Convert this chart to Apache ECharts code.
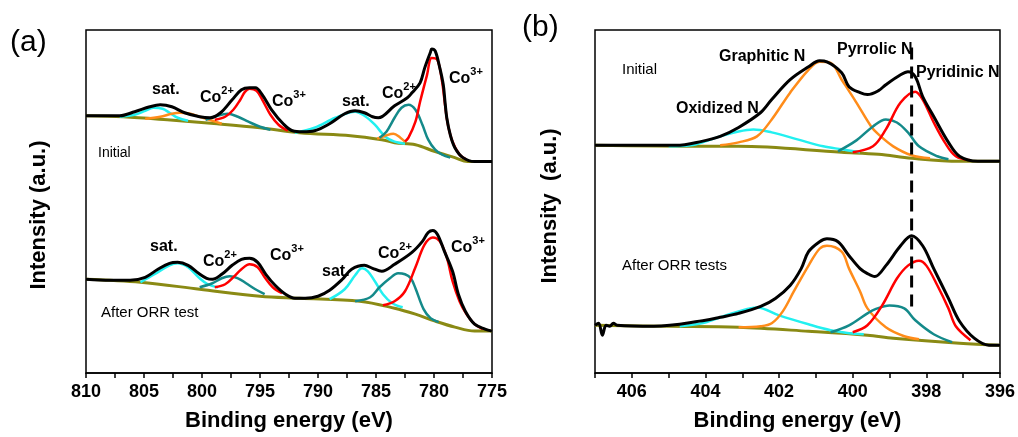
<!DOCTYPE html>
<html>
<head>
<meta charset="utf-8">
<title>XPS Co 2p / N 1s</title>
<script src="https://cdn.jsdelivr.net/npm/echarts@6/dist/echarts.min.js"></script>
<style>
  html, body { margin: 0; padding: 0; background: #fff; }
  #main { width: 1018px; height: 437px; }
</style>
</head>
<body>
<div id="main"></div>
<script>
// ---- (a) Co 2p : [binding energy (eV), intensity (a.u.)] ----
// Initial
const aIniEnvelope = [[810,258],[808.8,258],[807.1,258],[805.8,262],[804.5,267],[803.6,269],[802.6,267],[801.5,261],[800.2,257],[799.3,256],[798.4,261],[797.4,274],[796.6,284],[795.9,286],[795.4,286],[794.8,279],[794,264],[793,250],[792.2,243],[791.3,242],[790.3,243],[789,250],[787.7,260],[786.8,263],[786,261],[785.3,257],[784.8,256],[783.4,268],[782.3,276],[781.9,281],[781.2,291],[780.8,306],[780.3,322],[780.2,325],[779.9,323],[779.5,306],[779.2,289],[779.05,272],[778.9,256],[778.6,239],[778.2,226],[777.5,216],[776.5,212],[775,212]];
const aIniRedLo = [[798.9,254],[798,257],[797.3,264],[796.7,274],[796.3,282],[795.9,285],[795.3,283],[794.8,274],[794.1,259],[793.4,249],[792.6,243]];
const aIniRedHi = [[782.5,232],[782.2,236],[781.6,252],[781.2,272],[780.6,299],[780.2,316],[779.7,314],[779.3,292],[779.05,269],[778.8,249],[778.4,232],[777.8,219],[777.2,214]];
const aIniTealLo = [[799.7,254],[798.9,257],[797.8,260],[796.9,257],[796,252],[795,247],[794.1,244]];
const aIniTealHi = [[784.7,236],[784.1,242],[783.4,256],[782.8,266],[782.2,269],[781.6,264],[781,249],[780.5,234],[779.9,224],[779.3,219],[778.6,216]];
const aIniOrangeLo = [[804.9,255],[803.6,257],[802.6,260],[801.9,261],[801,260],[800.2,257],[799.1,253],[798.3,250]];
const aIniOrangeHi = [[784.9,235],[784.2,238],[783.5,240],[782.9,236],[782.5,232]];
const aIniCyanLo = [[807.1,257],[805.8,259],[804.9,263],[804.2,266],[803.4,265],[802.8,261],[802.1,256],[801.2,253]];
const aIniCyanHi = [[792,241],[790.3,246],[788.5,256],[786.8,262],[786,258],[785.1,249],[784.2,237],[783.4,232],[782.5,230]];
const aIniBase = [[810,258],[806.8,257],[803,254],[798.7,250],[795,246],[791.6,241],[787.2,238],[784.5,234],[783.4,231],[781.6,229],[779.9,222],[778.2,216],[777.1,212],[775,212]];
// After ORR test
const aAftEnvelope = [[810,94],[807.9,93],[806.2,93],[804.9,96],[803.8,104],[802.8,110],[802.1,111],[801.2,108],[800.3,100],[799.6,95],[799.1,94],[798.3,99],[797.4,108],[796.6,114],[795.9,115],[795.2,111],[794.5,99],[793.7,88],[792.8,79],[792,75],[791.1,75],[790,77],[789,83],[787.9,94],[787.1,104],[786,108],[785.3,105],[784.5,102],[783.4,109],[781.9,121],[781,132],[780.5,141],[780.1,143],[779.7,139],[779.1,122],[778.4,102],[777.9,79],[777.3,62],[776.5,49],[775.6,44],[775,42]];
const aAftRedLo = [[798.9,86],[798,89],[797.3,96],[796.6,104],[795.9,109],[795.2,106],[794.6,96],[793.9,86],[793.1,80]];
const aAftRedHi = [[784.4,68],[783.4,72],[782.5,82],[781.6,106],[780.8,129],[780.1,136],[779.5,132],[778.9,116],[778.4,92],[777.8,72],[777.2,59],[776.5,49],[775.8,44]];
const aAftTealLo = [[800.2,86],[799.1,90],[798.3,95],[797.6,97],[796.9,95],[796.2,90],[795.4,84],[794.6,79]];
const aAftTealHi = [[786.8,72],[785.5,76],[784.7,86],[783.8,95],[783.1,100],[782.5,99],[782,95],[781.6,85],[780.9,64],[780.3,55],[779.6,51]];
const aAftCyanLo = [[805.3,91],[804.1,99],[802.8,108],[802.1,110],[801.2,106],[800.3,96],[799.5,89],[798.6,86]];
const aAftCyanHi = [[789,74],[787.7,84],[786.8,98],[786.2,105],[785.7,102],[785.1,92],[784.4,79],[783.6,70],[782.7,66]];
const aAftBase = [[810,94],[805.3,91],[800.2,84],[795,77],[791.6,75],[786.4,72],[783.4,65],[781.6,59],[779.9,52],[778.2,46],[776.5,42],[775,42]];

// ---- (b) N 1s ----
// Initial
const bIniEnvelope = [[407,229],[405.8,229],[404.8,229],[404.1,233],[403.6,238],[403.1,247],[402.5,262],[402.2,275],[401.7,295],[401.2,308],[400.9,314],[400.7,313],[400.3,302],[400.1,288],[399.8,282],[399.6,280],[399.3,284],[399.1,290],[398.7,300],[398.5,303],[398.3,298],[398.1,278],[397.8,258],[397.4,232],[397.1,218],[396.6,213],[396,213]];
const bIniOrange = [[403.6,229],[403.1,232],[402.6,238],[402.2,255],[401.7,282],[401.2,305],[400.9,313],[400.6,312],[400.3,295],[399.9,272],[399.5,248],[399.3,240],[398.9,228],[398.4,219],[397.9,216]];
const bIniCyan = [[405,228],[404.4,229],[404,233],[403.6,238],[403.1,243],[402.7,245],[402.2,242],[401.5,235],[400.8,228],[400.3,225],[399.8,222]];
const bIniTeal = [[400.4,223],[399.9,234],[399.45,248],[399.1,255],[398.8,252],[398.5,242],[398.2,228],[397.7,218],[397.4,215]];
const bIniRed = [[400,222],[399.45,228],[399.1,245],[398.7,272],[398.3,283],[398.1,275],[397.8,252],[397.5,232],[397.2,218],[396.8,214]];
const bIniBase = [[407,229],[404.1,228],[403.1,228],[400.3,222],[399.3,220],[398.4,216],[397.1,213],[396,213]];
// After ORR tests
const bAftEnvelope = [[407,48],[406.9,50],[406.8,38],[406.7,48],[406.6,47],[406.5,50],[406.4,48],[405.4,47],[404,53],[403.6,56],[403.1,60],[402.5,67],[402.1,75],[401.7,88],[401.4,105],[401.2,122],[400.9,132],[400.7,135],[400.4,132],[400.1,118],[399.8,105],[399.6,100],[399.4,97],[399.1,108],[398.7,128],[398.4,138],[398.1,128],[397.8,105],[397.4,75],[397.1,52],[396.7,35],[396.3,28],[396,28]];
const bAftOrange = [[403.1,46],[402.5,47],[402.2,50],[401.9,62],[401.6,82],[401.2,108],[400.9,125],[400.7,128],[400.3,122],[400.1,105],[399.8,82],[399.6,65],[399.1,46],[398.6,37],[398.2,34]];
const bAftCyan = [[404.7,47],[404.1,50],[403.6,56],[403.1,62],[402.6,66],[402,58],[401.2,49],[400.6,43],[400.1,40],[399.7,39]];
const bAftTeal = [[400.6,41],[400.1,48],[399.6,60],[399.4,64],[399,68],[398.6,65],[398.3,53],[397.8,39],[397.3,31]];
const bAftRed = [[400,41],[399.6,48],[399.2,68],[398.8,95],[398.5,108],[398.2,113],[398,108],[397.7,88],[397.4,65],[397.2,47],[396.8,33]];
const bAftBase = [[407,48],[405,47],[403.1,46],[401.2,42],[399.6,38],[398.9,35],[397.1,30],[396,28]];
// pyridinic N guide line
const bDashLine = [[398.4,67],[398.4,328]];

// ---- chart ----
const FONT = '"Liberation Sans", Arial, sans-serif';
const C = { env: '#000000', red: '#ff0000', teal: '#148a8a', cyan: '#22f0f0', orange: '#ff8c1a', base: '#8a8a14' };

function curve(data, color, width, panel, z) {
  return {
    type: 'line', data: data, xAxisIndex: panel, yAxisIndex: panel,
    smooth: 0.35, symbol: 'none', silent: true, z: z,
    lineStyle: { color: color, width: width }
  };
}

function xAxis(panel, min, max, step, labelStep) {
  return {
    type: 'value', gridIndex: panel, min: min, max: max, interval: step, inverse: true,
    name: 'Binding energy (eV)', nameLocation: 'middle', nameGap: 37,
    nameTextStyle: { fontFamily: FONT, fontWeight: 'bold', fontSize: 22, color: '#000' },
    axisLine: { lineStyle: { color: '#000', width: 1.5 } },
    axisTick: { show: true, interval: 0, length: 5, lineStyle: { color: '#000', width: 1.5 } },
    axisLabel: {
      interval: 0, margin: 10, color: '#000', fontFamily: FONT, fontWeight: 'bold', fontSize: 18,
      formatter: function (v) { return Math.abs(v % labelStep) < 1e-6 ? String(v) : ''; }
    },
    splitLine: { show: false }
  };
}

function yAxis(panel, max) {
  return {
    type: 'value', gridIndex: panel, min: 0, max: max,
    axisLine: { show: false }, axisTick: { show: false }, axisLabel: { show: false },
    splitLine: { show: false }
  };
}

function plain(text, x, y, size) {
  return { type: 'text', x: x, y: y, silent: true, z: 100,
    style: { text: text, fill: '#000', font: size + 'px ' + FONT, verticalAlign: 'middle', align: 'left' } };
}
function bold(text, x, y) {
  return { type: 'text', x: x, y: y, silent: true, z: 100,
    style: { text: text, fill: '#000', font: 'bold 16px ' + FONT, verticalAlign: 'middle', align: 'left' } };
}
function yTitle(text, x, y) {
  return { type: 'text', x: x, y: y, rotation: Math.PI / 2, silent: true, z: 100,
    style: { text: text, fill: '#000', font: 'bold 22px ' + FONT, verticalAlign: 'middle', align: 'center' } };
}
function ion(charge, x, y) {
  return { type: 'text', x: x, y: y, silent: true, z: 100,
    style: {
      text: '{b|Co}{s|' + charge + '}', verticalAlign: 'middle', align: 'left',
      rich: {
        b: { fontFamily: FONT, fontWeight: 'bold', fontSize: 16, lineHeight: 26, fill: '#000' },
        s: { fontFamily: FONT, fontWeight: 'bold', fontSize: 11, lineHeight: 11, verticalAlign: 'top', fill: '#000' }
      }
    } };
}

const chart = echarts.init(document.getElementById('main'));
chart.setOption({
  animation: false,
  backgroundColor: '#fff',
  grid: [
    { left: 86, top: 30, width: 406, height: 344, show: true, borderColor: '#000', borderWidth: 1.5 },
    { left: 595, top: 30, width: 405, height: 345, show: true, borderColor: '#000', borderWidth: 1.5 }
  ],
  xAxis: [xAxis(0, 775, 810, 2.5, 5), xAxis(1, 396, 407, 1, 2)],
  yAxis: [yAxis(0, 344), yAxis(1, 345)],
  series: [
    curve(aIniBase, C.base, 3, 0, 2),
    curve(aIniCyanLo, C.cyan, 2.5, 0, 3), curve(aIniCyanHi, C.cyan, 2.5, 0, 3),
    curve(aIniOrangeLo, C.orange, 2.5, 0, 3), curve(aIniOrangeHi, C.orange, 2.5, 0, 3),
    curve(aIniTealLo, C.teal, 2.5, 0, 3), curve(aIniTealHi, C.teal, 2.5, 0, 3),
    curve(aIniRedLo, C.red, 2.5, 0, 3), curve(aIniRedHi, C.red, 2.5, 0, 3),
    curve(aIniEnvelope, C.env, 3, 0, 4),
    curve(aAftBase, C.base, 3, 0, 2),
    curve(aAftCyanLo, C.cyan, 2.5, 0, 3), curve(aAftCyanHi, C.cyan, 2.5, 0, 3),
    curve(aAftTealLo, C.teal, 2.5, 0, 3), curve(aAftTealHi, C.teal, 2.5, 0, 3),
    curve(aAftRedLo, C.red, 2.5, 0, 3), curve(aAftRedHi, C.red, 2.5, 0, 3),
    curve(aAftEnvelope, C.env, 3, 0, 4),

    curve(bIniBase, C.base, 3, 1, 2),
    curve(bIniCyan, C.cyan, 2.5, 1, 3), curve(bIniOrange, C.orange, 2.5, 1, 3),
    curve(bIniTeal, C.teal, 2.5, 1, 3), curve(bIniRed, C.red, 2.5, 1, 3),
    curve(bIniEnvelope, C.env, 3, 1, 4),
    curve(bAftBase, C.base, 3, 1, 2),
    curve(bAftCyan, C.cyan, 2.5, 1, 3), curve(bAftOrange, C.orange, 2.5, 1, 3),
    curve(bAftTeal, C.teal, 2.5, 1, 3), curve(bAftRed, C.red, 2.5, 1, 3),
    curve(bAftEnvelope, C.env, 3, 1, 4),
    {
      type: 'line', data: bDashLine, xAxisIndex: 1, yAxisIndex: 1, symbol: 'none', silent: true, z: 5,
      lineStyle: { color: '#000', width: 3, type: [12, 7] }
    }
  ],
  graphic: [
    plain('(a)', 10, 43, 30), plain('(b)', 522, 28, 30),
    yTitle('Intensity (a.u.)', 39, 215), yTitle('Intensity  (a.u.)', 550, 206),
    bold('sat.', 152, 90), ion('2+', 200, 98), ion('3+', 272, 102),
    bold('sat.', 342, 102), ion('2+', 382, 94), ion('3+', 449, 79),
    plain('Initial', 98, 153, 14),
    bold('sat.', 150, 247), ion('2+', 203, 262), ion('3+', 270, 256),
    bold('sat.', 322, 272), ion('2+', 378, 254), ion('3+', 451, 248),
    plain('After ORR test', 101, 313, 15),
    plain('Initial', 622, 70, 15),
    bold('Oxidized N', 676, 109), bold('Graphitic N', 719, 57),
    bold('Pyrrolic N', 837, 50), bold('Pyridinic N', 916, 73),
    plain('After ORR tests', 622, 266, 15)
  ]
});
</script>
</body>
</html>
